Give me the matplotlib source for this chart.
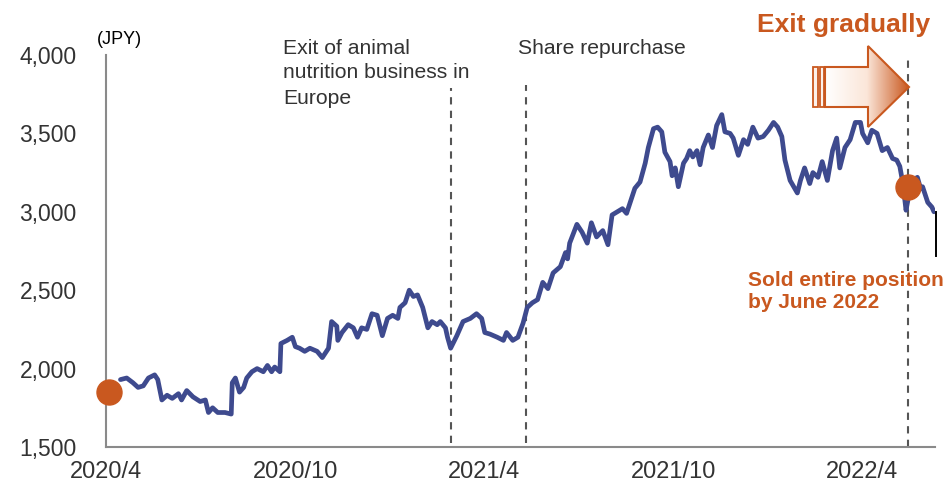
import numpy as np
import pandas as pd
import matplotlib
matplotlib.use("Agg")
import matplotlib.pyplot as plt
from matplotlib.patches import Polygon, Rectangle
from matplotlib.colors import LinearSegmentedColormap

plt.rcParams["font.family"] = ["Liberation Sans", "DejaVu Sans"]

# Share price (JPY), days counted from 2020-04-01
days = [14, 20, 26, 31, 36, 41, 47, 50, 54, 59, 64, 70, 73, 78, 84, 91, 96, 99,
        103, 108, 115, 121, 122, 125, 129, 133, 136, 141, 146, 152, 156, 160,
        163, 168, 169, 175, 180, 183, 187, 192, 197, 204, 209, 215, 218, 223,
        224, 228, 234, 239, 243, 247, 252, 257, 262, 267, 272, 277, 282, 284,
        289, 293, 297, 301, 306, 311, 315, 320, 323, 328, 330, 333, 339, 345,
        352, 358, 363, 366, 371, 378, 384, 387, 393, 398, 403, 407, 412, 417,
        422, 427, 432, 439, 444, 446, 448, 455, 460, 465, 469, 474, 480, 485,
        489, 494, 499, 503, 508, 511, 516, 521, 524, 529, 533, 537, 540, 545,
        547, 550, 553, 558, 561, 564, 567, 571, 574, 577, 582, 586, 590, 595,
        598, 603, 606, 611, 616, 620, 625, 630, 635, 640, 645, 649, 653, 656,
        661, 668, 671, 675, 680, 683, 688, 692, 697, 702, 706, 709, 714, 719,
        724, 729, 731, 736, 740, 745, 750, 755, 760, 764, 767, 770, 773, 775,
        779, 784, 787, 789, 794, 798, 800]
price = [1930, 1940, 1910, 1880, 1890, 1940, 1960, 1930, 1800, 1830, 1810, 1840,
         1800, 1860, 1820, 1790, 1800, 1720, 1750, 1720, 1720, 1710, 1910, 1940,
         1850, 1880, 1940, 1980, 2000, 1980, 2020, 1980, 2010, 1980, 2160, 2180,
         2200, 2140, 2130, 2110, 2130, 2110, 2070, 2130, 2300, 2270, 2180, 2230,
         2280, 2260, 2200, 2260, 2250, 2350, 2340, 2210, 2320, 2340, 2320, 2390,
         2420, 2500, 2460, 2470, 2390, 2260, 2300, 2280, 2300, 2260, 2200, 2130,
         2210, 2300, 2320, 2350, 2320, 2230, 2220, 2200, 2180, 2230, 2180, 2200,
         2290, 2390, 2420, 2440, 2550, 2510, 2610, 2650, 2740, 2700, 2800, 2920,
         2870, 2800, 2930, 2840, 2880, 2790, 2980, 3000, 3020, 2990, 3090, 3150,
         3190, 3310, 3410, 3530, 3540, 3510, 3380, 3320, 3230, 3280, 3160, 3310,
         3340, 3390, 3350, 3390, 3300, 3410, 3490, 3410, 3550, 3620, 3510, 3500,
         3470, 3360, 3460, 3430, 3540, 3470, 3480, 3520, 3570, 3540, 3480, 3330,
         3200, 3120, 3200, 3280, 3180, 3250, 3220, 3320, 3200, 3390, 3470, 3280,
         3410, 3460, 3570, 3570, 3500, 3440, 3520, 3500, 3390, 3410, 3340, 3330,
         3290, 3180, 3010, 3080, 3200, 3220, 3150, 3160, 3060, 3030, 3000]

# Final drop after the last plotted close
tail_days = [802, 802]
tail_price = [3000, 2720]

# Event markers
event_days = [333, 406, 775]
event_tops = [3790, 3810, 3970]

# Entry / exit points
dot_days = [3, 775]
dot_price = [1850, 3160]

tick_dates = ["2020-04-01", "2020-10-01", "2021-04-01", "2021-10-01", "2022-04-01"]
tick_labels = ["2020/4", "2020/10", "2021/4", "2021/10", "2022/4"]
y_ticks = [1500, 2000, 2500, 3000, 3500, 4000]

start = pd.Timestamp("2020-04-01")
to_date = lambda d: start + pd.to_timedelta(np.asarray(d), unit="D")

W, H = 949, 487
fig = plt.figure(figsize=(W / 100, H / 100), dpi=100)
ax = fig.add_axes([106 / W, 40 / H, 829 / W, 392 / H])

orange = "#C9581F"
navy = "#3E4A8E"
grey_text = "#333333"

ax.plot(to_date(days), price, color=navy, lw=3.4, solid_joinstyle="round",
        solid_capstyle="round", zorder=3)
ax.plot(to_date(tail_days), tail_price, color="black", lw=1.4, zorder=3,
        clip_on=False)

for d, top in zip(event_days, event_tops):
    ax.plot(to_date([d, d]), [1525 if d < 700 else 1500, top], color="#555555",
            lw=1.5, ls=(0, (3.5, 3)), zorder=2, clip_on=False)

ax.plot(to_date(dot_days), dot_price, "o", color=orange, ms=18, zorder=4,
        clip_on=False)

ax.set_ylim(1500, 4000)
ax.set_xlim(start, start + pd.Timedelta(days=801))
ax.set_yticks(y_ticks)
ax.set_yticklabels([f"{v:,}" for v in y_ticks])
ax.set_xticks(pd.to_datetime(tick_dates))
ax.set_xticklabels(tick_labels)
ax.tick_params(axis="y", length=0, pad=21, labelsize=16.5, labelcolor=grey_text)
ax.tick_params(axis="x", length=0, pad=10, labelsize=17, labelcolor=grey_text)
for s in ["top", "right"]:
    ax.spines[s].set_visible(False)
for s in ["left", "bottom"]:
    ax.spines[s].set_color("#8a8a8a")
    ax.spines[s].set_linewidth(1.5)

# Overlay in pixel coordinates for annotations
ov = fig.add_axes([0, 0, 1, 1], facecolor="none")
ov.set_xlim(0, W)
ov.set_ylim(H, 0)
ov.axis("off")

ov.text(97, 40, "(JPY)", fontsize=13, color="black", va="center", ha="left")
ov.text(283, 48, "Exit of animal", fontsize=15.2, color=grey_text,
        va="center", ha="left")
ov.text(283, 73, "nutrition business in", fontsize=15.2, color=grey_text,
        va="center", ha="left")
ov.text(283, 98, "Europe", fontsize=15.2, color=grey_text, va="center",
        ha="left")
ov.text(518, 49, "Share repurchase", fontsize=15.2, color=grey_text,
        va="center", ha="left")
ov.text(930, 25, "Exit gradually", fontsize=19, fontweight="bold", color=orange,
        va="center", ha="right")
ov.text(748, 280, "Sold entire position", fontsize=15, fontweight="bold",
        color=orange, va="center", ha="left")
ov.text(748, 303, "by June 2022", fontsize=15, fontweight="bold",
        color=orange, va="center", ha="left")

# Block arrow with a white-to-orange gradient
arrow_pts = [(825, 67), (868, 67), (868, 46), (909, 87), (868, 127),
             (868, 107), (825, 107)]
poly = Polygon(arrow_pts, closed=True, facecolor="none", edgecolor=orange,
               lw=1.5, zorder=6)
ov.add_patch(poly)
cmap = LinearSegmentedColormap.from_list("fade", ["#ffffff", "#fbe6d9", orange])
grad = np.linspace(0, 1, 256).reshape(1, -1)
im = ov.imshow(grad, cmap=cmap, extent=(825, 909, 127, 46), aspect="auto",
               zorder=5)
clip = Polygon(arrow_pts, closed=True, transform=ov.transData)
im.set_clip_path(clip)
for x0, x1 in [(813, 818), (820, 824)]:
    ov.add_patch(Rectangle((x0, 67), x1 - x0, 40, facecolor="#fdf1ea",
                           edgecolor=orange, lw=1.3, zorder=6))
ov.set_xlim(0, W)
ov.set_ylim(H, 0)

fig.savefig("out.png", dpi=100)
